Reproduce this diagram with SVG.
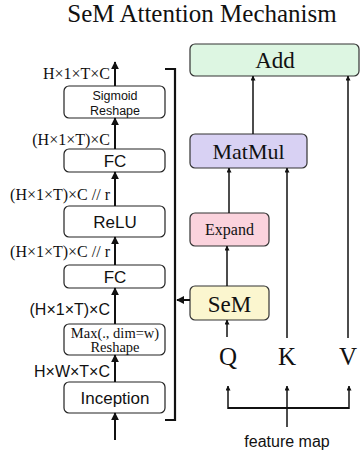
<svg xmlns="http://www.w3.org/2000/svg" width="361" height="458" viewBox="0 0 361 458">
<defs>
<marker id="ah" viewBox="0 0 10 10" refX="9" refY="5" markerWidth="5" markerHeight="5" markerUnits="userSpaceOnUse" orient="auto"><path d="M0,0 L10,5 L0,10 z" fill="#111"/></marker>
<marker id="ahb" viewBox="0 0 10 10" refX="9" refY="5" markerWidth="4" markerHeight="4" orient="auto"><path d="M0,0 L10,5 L0,10 z" fill="#111"/></marker>
</defs>
<style>
.serif{font-family:"Liberation Serif","Times New Roman",serif;fill:#111}
.sans{font-family:"Liberation Sans",Arial,sans-serif;fill:#111}
.lbox{fill:#fff;stroke:#222;stroke-width:1.2}
.cbox{stroke:#333;stroke-width:1.2}
.cl{fill:none;stroke:#111;stroke-width:2;marker-end:url(#ahb)}
.cr{fill:none;stroke:#111;stroke-width:1.5;marker-end:url(#ah)}
</style>
<rect width="361" height="458" fill="#fff"/>
<text class="serif" x="202" y="22" font-size="25" text-anchor="middle">SeM Attention Mechanism</text>

<g id="add"><rect class="cbox" x="190" y="44" width="169" height="32" rx="5" fill="#ddf6e2"/><text class="serif" x="275" y="68" font-size="23" text-anchor="middle">Add</text></g>
<g id="matmul"><rect class="cbox" x="190" y="134" width="117" height="34" rx="5" fill="#d8d1f3"/><text class="serif" x="248.5" y="159" font-size="22" text-anchor="middle">MatMul</text></g>
<g id="expand"><rect class="cbox" x="190" y="213" width="79" height="33" rx="5" fill="#fbd3dd"/><text class="serif" x="229.5" y="235" font-size="16" text-anchor="middle">Expand</text></g>
<g id="sem"><rect class="cbox" x="190" y="286" width="79" height="34" rx="5" fill="#fbf6cf"/><text class="serif" x="229.5" y="311.5" font-size="23" text-anchor="middle">SeM</text></g>
<g id="q"><text class="serif" x="228" y="365" font-size="25" text-anchor="middle">Q</text></g>
<g id="k"><text class="serif" x="287" y="365" font-size="25" text-anchor="middle">K</text></g>
<g id="v"><text class="serif" x="348" y="365" font-size="25" text-anchor="middle">V</text></g>
<g id="featuremap"><text class="sans" x="287" y="447" font-size="16" text-anchor="middle">feature map</text></g>

<g id="sigmoid"><rect class="lbox" x="64" y="86" width="101" height="32" rx="5"/><text class="sans" x="115" y="99.5" font-size="12.5" text-anchor="middle">Sigmoid</text><text class="sans" x="115" y="114.5" font-size="12.5" text-anchor="middle">Reshape</text></g>
<g id="fc1"><rect class="lbox" x="64" y="149" width="101" height="23" rx="5"/><text class="sans" x="115" y="167" font-size="17" text-anchor="middle">FC</text></g>
<g id="relu"><rect class="lbox" x="64" y="206" width="101" height="31" rx="5"/><text class="sans" x="115" y="228" font-size="17" text-anchor="middle">ReLU</text></g>
<g id="fc2"><rect class="lbox" x="64" y="265" width="101" height="23" rx="5"/><text class="sans" x="115" y="283" font-size="17" text-anchor="middle">FC</text></g>
<g id="max"><rect class="lbox" x="64" y="324" width="101" height="31" rx="5"/><text class="serif" x="115" y="337.5" font-size="14.5" text-anchor="middle">Max(., dim=w)</text><text class="serif" x="115" y="352" font-size="14.5" text-anchor="middle">Reshape</text></g>
<g id="inception"><rect class="lbox" x="64" y="382" width="101" height="31" rx="5"/><text class="sans" x="115" y="404" font-size="17" text-anchor="middle">Inception</text></g>

<g id="labels">
<text class="serif" x="110" y="79" font-size="16" text-anchor="end">H×1×T×C</text>
<text class="serif" x="110" y="145" font-size="16" text-anchor="end">(H×1×T)×C</text>
<text class="serif" x="110" y="200" font-size="16" text-anchor="end">(H×1×T)×C // r</text>
<text class="serif" x="110" y="257" font-size="16" text-anchor="end">(H×1×T)×C // r</text>
<text class="sans" x="110" y="315" font-size="16" text-anchor="end">(H×1×T)×C</text>
<text class="sans" x="110" y="377" font-size="16" text-anchor="end">H×W×T×C</text>
</g>

<g id="connectors">
<path class="cl" d="M115,86 V62"/>
<path class="cl" d="M115,149 V118"/>
<path class="cl" d="M115,206 V172"/>
<path class="cl" d="M115,265 V237"/>
<path class="cl" d="M115,324 V288"/>
<path class="cl" d="M115,382 V355"/>
<path class="cl" d="M115,440 V413"/>
<path fill="none" stroke="#111" stroke-width="2.2" d="M165,69 H175 V420 H165"/>
<path class="cl" d="M190,300 H177" stroke-width="2.4"/>
<path class="cr" d="M227,286 V246"/>
<path class="cr" d="M229,213 V168"/>
<path class="cr" d="M253,134 V76"/>
<path class="cr" d="M227,337 V320"/>
<path class="cr" d="M287,338 V168"/>
<path class="cr" d="M348,338 V76"/>
<path fill="none" stroke="#111" stroke-width="1.8" d="M228,408 H349"/>
<path class="cr" d="M228,409 V386" stroke-width="1.8"/>
<path class="cr" d="M349,409 V386" stroke-width="1.8"/>
<path class="cr" d="M287,427 V386" stroke-width="1.8"/>
</g>
</svg>
